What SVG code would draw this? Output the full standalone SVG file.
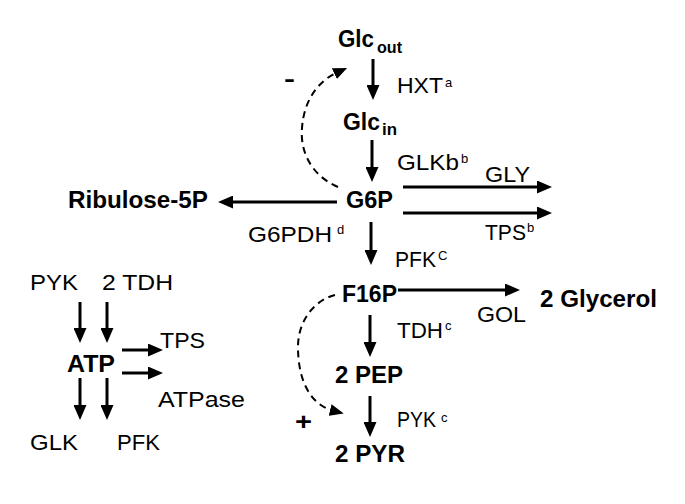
<svg xmlns="http://www.w3.org/2000/svg" width="685" height="504" viewBox="0 0 685 504">
<style>
text{font-family:"Liberation Sans",Arial,sans-serif;fill:#000}
.b{font-weight:bold;font-size:23px}
.r{font-size:22px}
.sub{font-weight:bold;font-size:16px}
.sup{font-size:13px}
.a{stroke:#000;stroke-width:3;fill:none;marker-end:url(#ah)}
.d{stroke:#000;stroke-width:2;fill:none;stroke-dasharray:7 5;marker-end:url(#dh)}
</style>
<defs>
<marker id="ah" markerWidth="15" markerHeight="13" refX="5" refY="6.5" orient="auto" markerUnits="userSpaceOnUse"><path d="M0,0 L15,6.5 L0,13 z" fill="#000"/></marker>
<marker id="dh" markerWidth="14" markerHeight="12" refX="4" refY="6" orient="auto" markerUnits="userSpaceOnUse"><path d="M0,0 L14,6 L0,12 z" fill="#000"/></marker>
</defs>
<rect width="685" height="504" fill="#fff"/>
<g id="connectors">
<line class="a" x1="373" y1="59" x2="373" y2="90"/>
<line class="a" x1="372" y1="140" x2="372" y2="172"/>
<line class="a" x1="371" y1="222" x2="371" y2="255"/>
<line class="a" x1="370" y1="315" x2="370" y2="347"/>
<line class="a" x1="370" y1="396" x2="370" y2="427"/>
<line class="a" x1="337" y1="202" x2="228" y2="202"/>
<line class="a" x1="403" y1="187" x2="542" y2="187"/>
<line class="a" x1="403" y1="213" x2="542" y2="213"/>
<line class="a" x1="398" y1="290" x2="510" y2="290"/>
<line class="a" x1="80" y1="302" x2="80" y2="333"/>
<line class="a" x1="107" y1="302" x2="107" y2="333"/>
<line class="a" x1="122" y1="350" x2="153" y2="350"/>
<line class="a" x1="122" y1="373" x2="153" y2="373"/>
<line class="a" x1="80" y1="378" x2="80" y2="410"/>
<line class="a" x1="107" y1="378" x2="107" y2="410"/>
<path class="d" d="M338,187 C310,175 300,150 302,128 C304,100 318,81 338,72"/>
<path class="d" d="M335,295 C315,300 298,320 298,347 C298,380 310,405 334,411"/>
</g>
<g id="glcout"><text class="b" x="338" y="47" textLength="36" lengthAdjust="spacingAndGlyphs">Glc</text><text class="sub" x="377" y="53" textLength="25" lengthAdjust="spacingAndGlyphs">out</text></g>
<g id="hxt"><text class="r" x="397" y="93" textLength="46" lengthAdjust="spacingAndGlyphs">HXT</text><text class="sup" x="445" y="87">a</text></g>
<g id="glcin"><text class="b" x="343" y="130" textLength="37" lengthAdjust="spacingAndGlyphs">Glc</text><text class="sub" x="382" y="135" textLength="15" lengthAdjust="spacingAndGlyphs">in</text></g>
<g id="glkb"><text class="r" x="397" y="170" textLength="62" lengthAdjust="spacingAndGlyphs">GLKb</text><text class="sup" x="461" y="163">b</text></g>
<g id="g6p"><text class="b" x="346" y="208" textLength="47" lengthAdjust="spacingAndGlyphs">G6P</text></g>
<g id="ribulose"><text class="b" x="68" y="208" textLength="140" lengthAdjust="spacingAndGlyphs">Ribulose-5P</text></g>
<g id="g6pdh"><text class="r" x="248" y="242" textLength="84" lengthAdjust="spacingAndGlyphs">G6PDH</text><text class="sup" x="337" y="234">d</text></g>
<g id="gly"><text class="r" x="485" y="182" textLength="45" lengthAdjust="spacingAndGlyphs">GLY</text></g>
<g id="tps"><text class="r" x="485" y="240" textLength="41" lengthAdjust="spacingAndGlyphs">TPS</text><text class="sup" x="527" y="232">b</text></g>
<g id="pfk"><text class="r" x="395" y="267" textLength="41" lengthAdjust="spacingAndGlyphs">PFK</text><text class="sup" x="438" y="260">C</text></g>
<g id="f16p"><text class="b" x="342" y="302" textLength="55" lengthAdjust="spacingAndGlyphs">F16P</text></g>
<g id="glycerol"><text class="b" x="540" y="307" textLength="117" lengthAdjust="spacingAndGlyphs">2 Glycerol</text></g>
<g id="gol"><text class="r" x="477" y="322" textLength="49" lengthAdjust="spacingAndGlyphs">GOL</text></g>
<g id="tdh"><text class="r" x="397" y="338" textLength="46" lengthAdjust="spacingAndGlyphs">TDH</text><text class="sup" x="445" y="330">c</text></g>
<g id="pep"><text class="b" x="335" y="383" textLength="68" lengthAdjust="spacingAndGlyphs">2 PEP</text></g>
<g id="pyk"><text class="r" x="397" y="427" textLength="39" lengthAdjust="spacingAndGlyphs">PYK</text><text class="sup" x="441" y="422">c</text></g>
<g id="pyr"><text class="b" x="335" y="462" textLength="70" lengthAdjust="spacingAndGlyphs">2 PYR</text></g>
<g id="minus"><text x="284" y="87" style="font-size:24px;font-weight:bold" textLength="11" lengthAdjust="spacingAndGlyphs">-</text></g>
<g id="plus"><text x="295" y="430" style="font-size:24px;font-weight:bold" textLength="17" lengthAdjust="spacingAndGlyphs">+</text></g>
<g id="pyk2"><text class="r" x="30" y="290" textLength="48" lengthAdjust="spacingAndGlyphs">PYK</text></g>
<g id="tdh2"><text class="r" x="102" y="290" textLength="71" lengthAdjust="spacingAndGlyphs">2 TDH</text></g>
<g id="atp"><text class="b" x="67" y="372" textLength="48" lengthAdjust="spacingAndGlyphs">ATP</text></g>
<g id="tps2"><text class="r" x="160" y="348" textLength="45" lengthAdjust="spacingAndGlyphs">TPS</text></g>
<g id="atpase"><text class="r" x="158" y="407" textLength="87" lengthAdjust="spacingAndGlyphs">ATPase</text></g>
<g id="glk"><text class="r" x="30" y="450" textLength="48" lengthAdjust="spacingAndGlyphs">GLK</text></g>
<g id="pfk2"><text class="r" x="117" y="450" textLength="43" lengthAdjust="spacingAndGlyphs">PFK</text></g>
</svg>
